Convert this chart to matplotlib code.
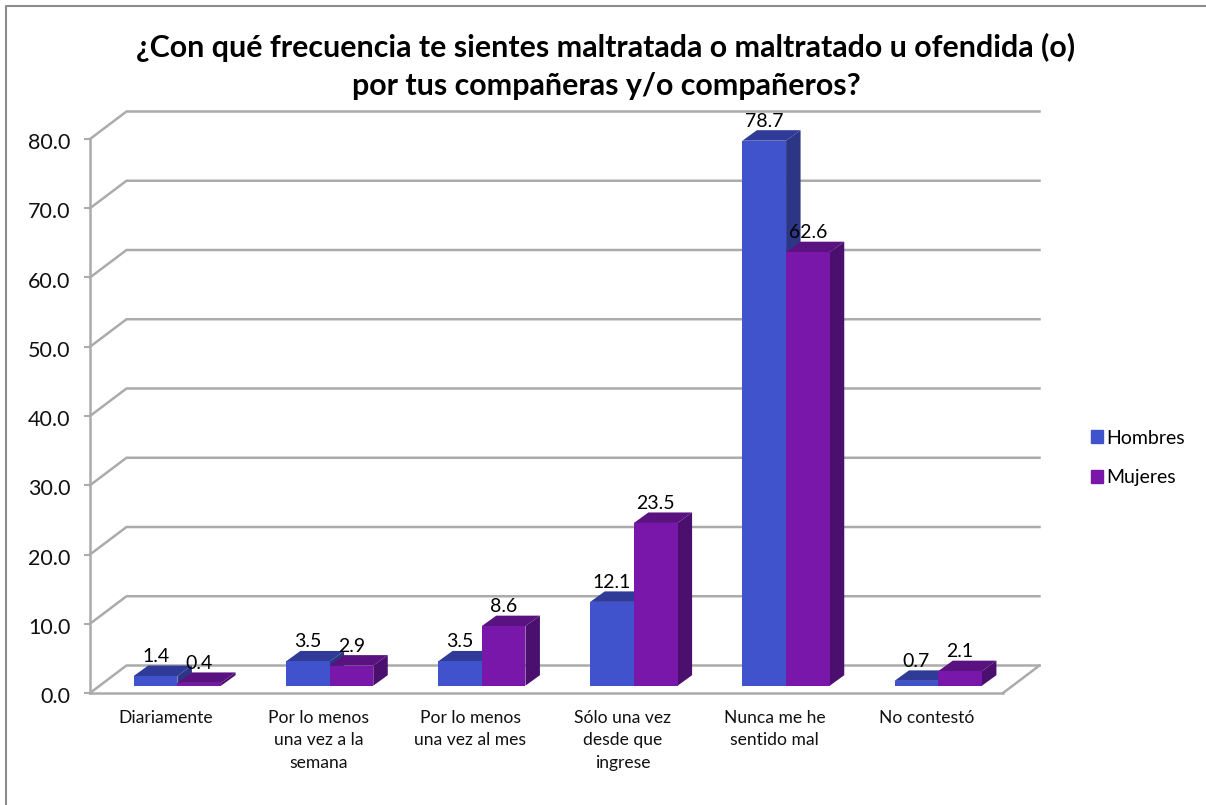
#!/usr/bin/env python3

"""
Column chart with a fake 3D look: how often students feel mistreated by classmates.
"""

# IMPORTS
import numpy as np
import matplotlib
matplotlib.use('Agg')
import matplotlib.pyplot as plt
from matplotlib.lines import Line2D
from matplotlib.patches import Patch
from matplotlib.transforms import ScaledTranslation

# DATA
categories = ['Diariamente', 'Por lo menos\nuna vez a la\nsemana', 'Por lo menos\nuna vez al mes',
              'Sólo una vez\ndesde que\ningrese', 'Nunca me he\nsentido mal', 'No contestó']
hombres = [1.4, 3.5, 3.5, 12.1, 78.7, 0.7]
mujeres = [0.4, 2.9, 8.6, 23.5, 62.6, 2.1]
y_ticks = [0, 10, 20, 30, 40, 50, 60, 70, 80]
title = '¿Con qué frecuencia te sientes maltratada o maltratado u ofendida (o)\npor tus compañeras y/o compañeros?'

# STYLE
W, H = 1206, 805
GRID = '#ABABAB'
BLUE = ('#4153CC', '#2F3B96', '#2D3585')
PURPLE = ('#7817AA', '#5A1280', '#4B0F6E')
# depth of the wall and of the bars, in data units
WALL_DX, WALL_DY = 36.5 / 152.2, 27.5 / 6.925
BAR_DX, BAR_DY = 14.5 / 152.2, 10.5 / 6.925
BAR_W = 43.7 / 152.2
BASE_DX, BASE_DY = 9.8 / 152.2, 7.3 / 6.925


def draw_bars(ax, x, values, colors):
    """Front face through ax.bar, the top and side faces as polygons"""
    front, top, side = colors
    for xi, v in zip(x, values):
        left, right = xi - BAR_W / 2, xi + BAR_W / 2
        high = BASE_DY + v
        ax.fill([left, right, right + BAR_DX, left + BAR_DX],
                [high, high, high + BAR_DY, high + BAR_DY], color=top, lw=0, zorder=3, clip_on=False)
        ax.fill([right, right + BAR_DX, right + BAR_DX, right],
                [BASE_DY, BASE_DY + BAR_DY, high + BAR_DY, high], color=side, lw=0, zorder=3, clip_on=False)
    ax.bar(x, values, width=BAR_W, bottom=BASE_DY, color=front, lw=0, zorder=3, clip_on=False)


def add_labels(ax, x, values):
    for xi, v in zip(x, values):
        ax.annotate(f'{v:.1f}', (xi, BASE_DY + v + BAR_DY), xytext=(0, 6.5), textcoords='offset points',
                    ha='center', va='center', fontsize=14, color='black', zorder=5, annotation_clip=False)


def main():
    plt.rcParams['font.family'] = ['Lato', 'DejaVu Sans']
    fig = plt.figure(figsize=(W / 100, H / 100), dpi=100, facecolor='white')
    ax = fig.add_axes([90 / W, 1 - 693 / H, 913 / W, 554 / H])
    ax.set_xlim(0, 6)
    ax.set_ylim(0, 80)
    ax.patch.set_alpha(0)

    # walls and gridlines
    for v in y_ticks:
        ax.plot([0, WALL_DX, 6 + WALL_DX], [v, v + WALL_DY, v + WALL_DY], color=GRID, lw=1.8,
                solid_joinstyle='miter', clip_on=False, zorder=1)
    ax.plot([6, 6 + WALL_DX], [0, WALL_DY], color=GRID, lw=1.8, clip_on=False, zorder=1)

    for s in ['top', 'right']:
        ax.spines[s].set_visible(False)
    for s in ['left', 'bottom']:
        ax.spines[s].set_color(GRID)
        ax.spines[s].set_linewidth(1.8)

    # bars
    centers = np.arange(len(categories)) + 0.5 + BASE_DX
    x_h = centers - BAR_W / 2 + 0.01
    x_m = centers + BAR_W / 2 + 0.01
    draw_bars(ax, x_h, hombres, BLUE)
    draw_bars(ax, x_m, mujeres, PURPLE)
    add_labels(ax, x_h, hombres)
    add_labels(ax, x_m, mujeres)

    # axes text
    ax.set_yticks(y_ticks)
    ax.set_yticklabels([f'{v:.1f}' for v in y_ticks], fontsize=15.5, color='#111111')
    ax.tick_params(axis='y', length=4, width=1.5, color=GRID, pad=10)
    shift = ScaledTranslation(0, -2 / 100, fig.dpi_scale_trans)
    for label in ax.get_yticklabels():
        label.set_transform(label.get_transform() + shift)
    ax.set_xticks(np.arange(len(categories)) + 0.5)
    ax.set_xticklabels(categories, fontsize=12.6, color='#111111', linespacing=1.5)
    ax.tick_params(axis='x', length=0, pad=12)

    fig.text(606 / W, 1 - 66.5 / H, title, ha='center', va='center', fontsize=21.9, fontweight='bold',
             color='black', linespacing=1.4)

    # legend
    handles = [Patch(color=BLUE[0], label='Hombres'), Patch(color=PURPLE[0], label='Mujeres')]
    fig.legend(handles=handles, loc='center left', bbox_to_anchor=(1073 / W, 1 - 458 / H), frameon=False,
               fontsize=14, handlelength=0.62, handleheight=0.62, handletextpad=0.2, labelspacing=1.18)

    # outer frame, cut by the image on the right and at the bottom
    fig.add_artist(Line2D([6 / W, 6 / W, 1], [0, 1 - 6 / H, 1 - 6 / H], color='#8C8C8C', lw=1.5))

    fig.savefig('out.png', dpi=100)


if __name__ == '__main__':
    main()
